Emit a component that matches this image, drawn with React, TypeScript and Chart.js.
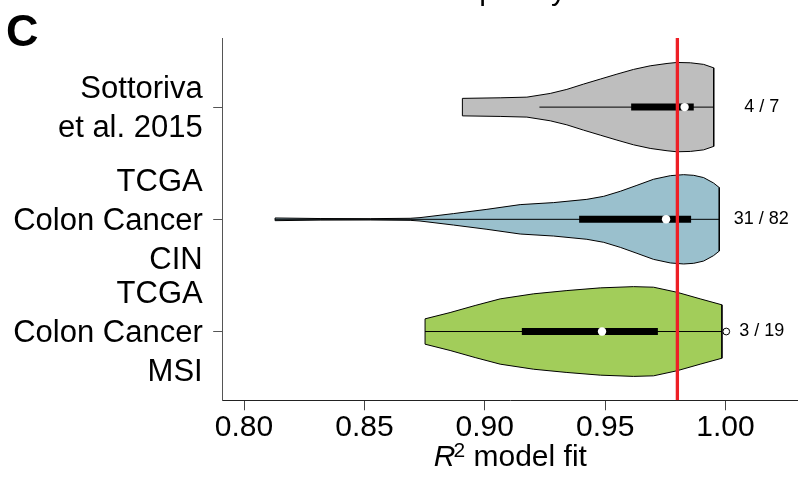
import React, { useEffect, useRef } from 'react';
import { Chart, registerables } from 'chart.js';

Chart.register(...registerables);

const FONT = '"Liberation Sans", Arial, Helvetica, sans-serif';

// categories (top to bottom) and their positions on the value axis
const categoryLines: string[][] = [
  ['Sottoriva', 'et al. 2015'],
  ['TCGA', 'Colon Cancer', 'CIN'],
  ['TCGA', 'Colon Cancer', 'MSI'],
];
const categoryPos = [3, 2, 1];
const violinColors = ['#BEBEBE', '#9AC0CD', '#A2CD5A'];

// x-axis ticks
const xTicks = [0.8, 0.85, 0.9, 0.95, 1.0];
const xMin = 0.79115;
const xMax = 1.0301;
const yMin = 0.387;
const yMax = 3.616;

// threshold line
const threshold = 0.98;

// violin outlines: R^2 values and half widths (density, scaled)
const sotX = [0.8907, 0.9064, 0.9175, 0.9272, 0.9341, 0.941, 0.948, 0.9549, 0.9618, 0.9687, 0.9757, 0.9798, 0.9854, 0.9909, 0.9951];
const sotW = [0.078, 0.083, 0.089, 0.122, 0.158, 0.205, 0.25, 0.294, 0.336, 0.368, 0.389, 0.398, 0.395, 0.381, 0.35];

const cinX = [0.8129, 0.8316, 0.8524, 0.869, 0.8731, 0.887, 0.9009, 0.9147, 0.9286, 0.9424, 0.9494, 0.9563, 0.9632, 0.9701, 0.9771, 0.9826, 0.9868, 0.9909, 0.995, 0.9974];
const cinW = [0.012, 0.007, 0.006, 0.009, 0.015, 0.051, 0.089, 0.131, 0.149, 0.178, 0.205, 0.25, 0.303, 0.357, 0.389, 0.398, 0.392, 0.372, 0.324, 0.283];

const msiX = [0.8752, 0.8856, 0.896, 0.9064, 0.9203, 0.9341, 0.948, 0.9618, 0.9701, 0.9798, 0.9895, 0.9985];
const msiW = [0.113, 0.169, 0.232, 0.291, 0.336, 0.365, 0.389, 0.4, 0.395, 0.35, 0.291, 0.238];

// box statistics per category
const whiskerLow = [0.9227, 0.8129, 0.8752];
const q1 = [0.9608, 0.9392, 0.9154];
const medians = [0.983, 0.9753, 0.9487];
const q3 = [0.9868, 0.9857, 0.9719];
const whiskerHigh = [0.9951, 0.9974, 0.9985];

// open circle beside the MSI violin
const outlierX = [1.0003];
const outlierPos = [1];

// count annotations
const counts = ['4 / 7', '31 / 82', '3 / 19'];
const countX = [1.0078, 1.0034, 1.0057];

function violinPolygon(xs: number[], ws: number[], c: number) {
  const upper = xs.map((x, i) => ({ x, y: c + ws[i] }));
  const lower = xs.map((x, i) => ({ x, y: c - ws[i] })).reverse();
  return [...upper, ...lower, upper[0]];
}

export default function App() {
  const ref = useRef<HTMLCanvasElement>(null);

  useEffect(() => {
    document.body.style.margin = '0';
    const canvas = ref.current!;
    const violins = [
      [sotX, sotW],
      [cinX, cinW],
      [msiX, msiW],
    ];

    const datasets: any[] = [];
    datasets.push({
      data: [
        { x: threshold, y: yMin },
        { x: threshold, y: yMax },
      ],
      showLine: true,
      borderColor: '#EE1F26',
      borderWidth: 3.3,
      pointRadius: 0,
      order: 0,
    });
    categoryPos.forEach((c, i) => {
      datasets.push({
        data: [{ x: medians[i], y: c }],
        pointRadius: 4.2,
        pointBackgroundColor: '#fff',
        pointBorderWidth: 0,
        order: 1,
      });
      datasets.push({
        data: [
          { x: q1[i], y: c },
          { x: q3[i], y: c },
        ],
        showLine: true,
        borderColor: '#000',
        borderWidth: 7,
        borderCapStyle: 'butt',
        pointRadius: 0,
        order: 2,
      });
      datasets.push({
        data: [
          { x: whiskerLow[i], y: c },
          { x: whiskerHigh[i], y: c },
        ],
        showLine: true,
        borderColor: '#000',
        borderWidth: 1,
        pointRadius: 0,
        order: 3,
      });
      const [xs, ws] = violins[i];
      datasets.push({
        data: violinPolygon(xs, ws, c),
        showLine: true,
        fill: 'shape',
        backgroundColor: violinColors[i],
        borderColor: '#000',
        borderWidth: 1,
        pointRadius: 0,
        tension: 0,
        order: 4,
      });
    });
    datasets.push({
      data: outlierX.map((x, i) => ({ x, y: outlierPos[i] })),
      pointRadius: 3.4,
      pointBackgroundColor: '#fff',
      pointBorderColor: '#000',
      pointBorderWidth: 1,
      order: 1,
    });

    const annotations = {
      id: 'annotations',
      afterDraw(chart: any) {
        const ctx = chart.ctx as CanvasRenderingContext2D;
        const xs = chart.scales.x;
        const ys = chart.scales.y;
        const area = chart.chartArea;
        ctx.save();
        ctx.fillStyle = '#000';

        // counts
        ctx.font = `18px ${FONT}`;
        ctx.textAlign = 'left';
        ctx.textBaseline = 'middle';
        counts.forEach((t, i) => {
          ctx.fillText(t, xs.getPixelForValue(countX[i]), ys.getPixelForValue(categoryPos[i]));
        });

        // axis title: R^2 model fit
        ctx.textBaseline = 'alphabetic';
        const base = 466;
        ctx.font = `italic 30px ${FONT}`;
        const wR = ctx.measureText('R').width;
        ctx.font = `21px ${FONT}`;
        const w2 = ctx.measureText('2').width;
        ctx.font = `30px ${FONT}`;
        const wRest = ctx.measureText(' model fit').width;
        const total = wR + w2 - 2 + wRest;
        let x0 = (area.left + area.right) / 2 - total / 2;
        ctx.font = `italic 30px ${FONT}`;
        ctx.fillText('R', x0, base);
        x0 += wR - 2;
        ctx.font = `21px ${FONT}`;
        ctx.fillText('2', x0, base - 9.5);
        x0 += w2;
        ctx.font = `30px ${FONT}`;
        ctx.fillText(' model fit', x0, base);

        // panel letter
        ctx.font = `bold 45px ${FONT}`;
        ctx.fillText('C', 6, 46);

        // axis title of the panel above (clipped at the top edge)
        ctx.font = `30px ${FONT}`;
        ctx.textAlign = 'right';
        ctx.fillText('Clone frequency', 566, 0);
        ctx.restore();
      },
    };

    const chart = new Chart(canvas, {
      type: 'scatter',
      data: { datasets },
      options: {
        animation: false,
        responsive: false,
        devicePixelRatio: 1,
        layout: { autoPadding: false, padding: { top: 38, left: 0, right: 0, bottom: 0 } },
        plugins: { legend: { display: false }, tooltip: { enabled: false } },
        scales: {
          x: {
            type: 'linear',
            min: xMin,
            max: xMax,
            afterBuildTicks: (s: any) => {
              s.ticks = xTicks.map((v) => ({ value: v }));
            },
            afterFit: (s: any) => {
              s.height = 76.7;
              s.paddingLeft = 0;
              s.paddingRight = 0;
              s.paddingTop = 0;
              s.paddingBottom = 0;
            },
            ticks: {
              callback: (v: any) => Number(v).toFixed(2),
              font: { size: 30, family: FONT },
              color: '#000',
              padding: -1,
              maxRotation: 0,
              autoSkip: false,
            },
            grid: { drawOnChartArea: false, drawTicks: true, tickLength: 10, color: '#444', lineWidth: 1 },
            border: { display: true, color: '#222', width: 1 },
          },
          y: {
            type: 'linear',
            min: yMin,
            max: yMax,
            afterBuildTicks: (s: any) => {
              s.ticks = categoryPos.map((v) => ({ value: v }));
            },
            afterFit: (s: any) => {
              s.width = 222.7;
              s.paddingLeft = 0;
              s.paddingRight = 0;
              s.paddingTop = 0;
              s.paddingBottom = 0;
            },
            ticks: {
              callback: (v: any) => {
                const i = categoryPos.indexOf(Number(v));
                return i >= 0 ? categoryLines[i] : '';
              },
              font: { size: 31, family: FONT, lineHeight: 1.26 },
              color: '#000',
              padding: 10.5,
              labelOffset: 2,
              autoSkip: false,
            },
            grid: { drawOnChartArea: false, drawTicks: true, tickLength: 9.5, color: '#555', lineWidth: 1 },
            border: { display: true, color: '#555', width: 1 },
          },
        },
      },
      plugins: [annotations],
    });
    return () => chart.destroy();
  }, []);

  return (
    <div style={{ width: 798, height: 477 }}>
      <canvas ref={ref} width={798} height={477} style={{ display: 'block', width: 798, height: 477 }} />
    </div>
  );
}
